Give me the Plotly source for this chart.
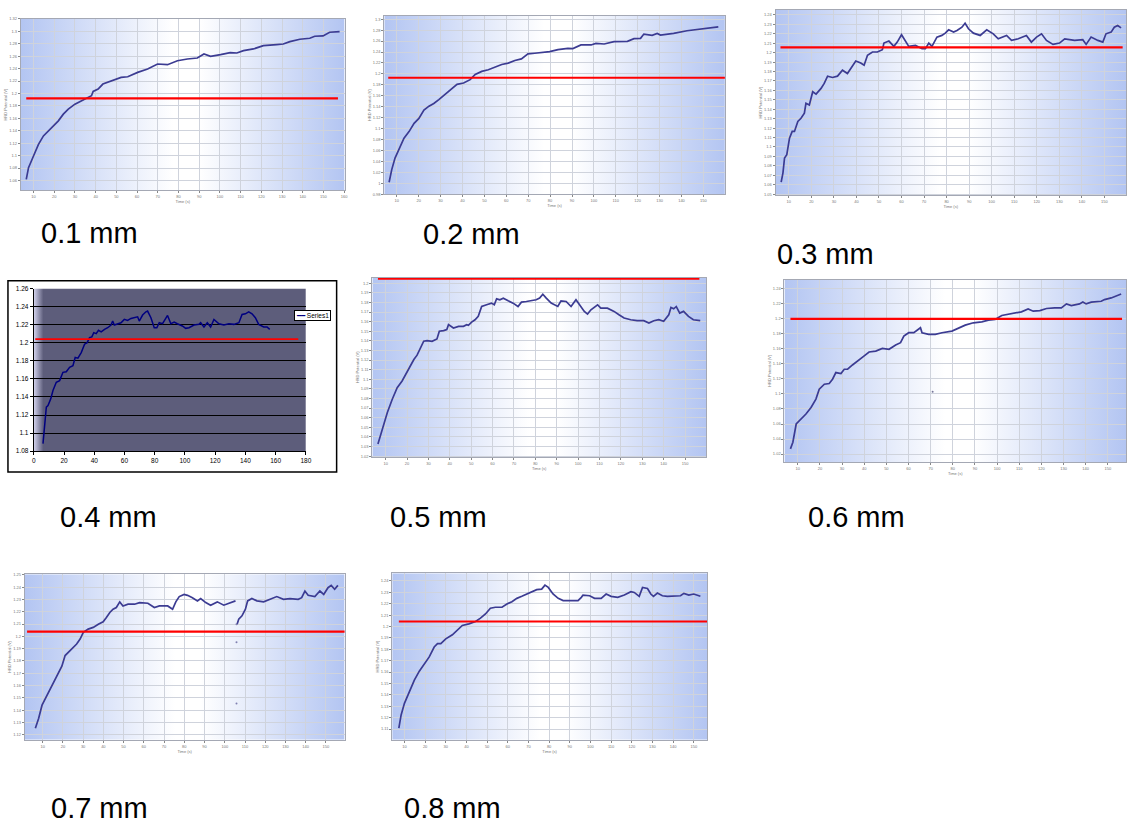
import plotly.graph_objects as go

W, H = 1137, 833

# ---------------- data (time in s, potential in V) ----------------
t_01 = [6.5, 7.6, 10, 12.4, 14.8, 17.2, 19.6, 22, 24.4, 26.8, 30, 33.2, 35.6, 38, 38.8, 41.2, 43.5, 47.5,
        52.3, 55.5, 60.3, 65.1, 69.9, 74.7, 79.5, 84.3, 89.1, 92.3, 95.5, 100.3, 105, 108.2, 111.4, 116.2,
        121, 127.4, 130.6, 133.8, 138.6, 143.4, 145.8, 149.8, 153, 157.8]
v_01 = [1.0617, 1.0806, 1.0994, 1.1182, 1.1317, 1.1398, 1.1462, 1.1559, 1.1667, 1.1747, 1.1828, 1.1882,
        1.192, 1.1963, 1.2033, 1.207, 1.2151, 1.2205, 1.2258, 1.2269, 1.2339, 1.2393, 1.2474, 1.2463,
        1.2527, 1.2554, 1.2571, 1.2635, 1.2597, 1.2624, 1.2657, 1.2651, 1.2689, 1.2716, 1.277, 1.2786,
        1.2796, 1.2834, 1.2872, 1.2888, 1.292, 1.2925, 1.2985, 1.2996]

t_02 = [6.5, 7.7, 9.2, 11.1, 13.3, 15.6, 17.9, 20.1, 22.4, 24.7, 26.9, 29.2, 31.5, 34.5, 37.5, 40.5, 43.5,
        45.8, 48.8, 51.8, 54.9, 57.9, 60.9, 63.9, 66.9, 69.9, 73, 76, 79.8, 83.6, 88.1, 90.4, 94.1, 98.7,
        100.9, 104.7, 109.2, 115.3, 118.3, 121.3, 122.8, 126.6, 128.9, 130.4, 136.4, 142.5, 147, 153.1, 156.8]
v_02 = [1.0022, 1.0252, 1.0463, 1.0644, 1.0826, 1.0946, 1.1097, 1.1188, 1.1339, 1.1411, 1.146, 1.1532,
        1.1611, 1.1713, 1.181, 1.1834, 1.1895, 1.1991, 1.2046, 1.2076, 1.2124, 1.2173, 1.2197, 1.2245,
        1.2275, 1.2366, 1.2378, 1.239, 1.2408, 1.2444, 1.2468, 1.2462, 1.2529, 1.2529, 1.2559, 1.2547,
        1.2589, 1.2595, 1.2644, 1.265, 1.2728, 1.2704, 1.274, 1.271, 1.274, 1.2789, 1.2813, 1.2849, 1.2861]

t_03 = [6.6, 7.4, 8.1, 9.1, 10.3, 11.5, 12.5, 14, 15.4, 16.9, 17.6, 19.1, 20.6, 22.1, 24.3, 25.7, 27.2,
        29.4, 31.6, 33.8, 36, 37.5, 39.7, 41.9, 43.4, 44.9, 47.1, 49.3, 51.5, 52.2, 54.4, 56.6, 58.1, 60,
        61.5, 63.2, 66.2, 69.1, 70.6, 72.1, 73.5, 75.7, 77.9, 79.4, 80.9, 83.1, 84.6, 86.8, 88.2, 89.7,
        91.9, 94.9, 97.8, 100.7, 102.9, 106.6, 108.8, 111.8, 115.4, 117.6, 119.9, 122.1, 124.3, 127.2,
        130.1, 132.4, 136.8, 140.4, 141.9, 144.1, 147.1, 149.3, 150.7, 153, 154.4, 155.9, 157.4]
v_03 = [1.0628, 1.0726, 1.0884, 1.0919, 1.1094, 1.1165, 1.1165, 1.127, 1.1305, 1.1358, 1.1463, 1.1446,
        1.1586, 1.1561, 1.1621, 1.1674, 1.1751, 1.1737, 1.1751, 1.1814, 1.1779, 1.1832, 1.1912, 1.1891,
        1.1867, 1.1972, 1.2007, 1.2007, 1.2032, 1.2102, 1.2123, 1.2067, 1.2112, 1.219, 1.2137, 1.2067,
        1.2077, 1.2042, 1.2042, 1.2102, 1.2067, 1.2165, 1.2183, 1.2207, 1.2242, 1.2218, 1.2235, 1.227,
        1.2312, 1.2253, 1.2207, 1.2183, 1.2242, 1.22, 1.2147, 1.2183, 1.213, 1.2147, 1.2183, 1.2112,
        1.2165, 1.22, 1.213, 1.2088, 1.2102, 1.2147, 1.213, 1.2137, 1.2088, 1.2165, 1.213, 1.2112, 1.22,
        1.2218, 1.227, 1.2288, 1.2263]

t_04 = [6.1, 7.2, 8.3, 9.4, 11.2, 12.7, 13.8, 14.9, 17.1, 19.3, 21.5, 23.7, 25.9, 27.4, 29.2, 31.4, 33.6,
        35.3, 36.9, 38.4, 39.7, 41.3, 42.8, 44.6, 46.8, 48.9, 51.1, 52.2, 53.3, 55.5, 57.7, 59.9, 62.1,
        64.3, 66.5, 68.7, 69.8, 72, 74.2, 75.3, 77.5, 79.7, 81.4, 83, 85.2, 87.4, 88.5, 90.7, 92.9, 95,
        98.3, 100.5, 102.7, 106, 109.3, 110.4, 112.6, 114.8, 117, 119.2, 122.5, 125.8, 129.1, 132.4,
        135.7, 137.8, 140, 142.2, 144.4, 146.6, 148.8, 152.1, 154.3, 156.1]
v_04 = [1.0884, 1.1123, 1.1288, 1.1306, 1.1379, 1.1471, 1.1508, 1.1563, 1.1581, 1.1673, 1.168, 1.1728,
        1.1746, 1.1837, 1.183, 1.1892, 1.1984, 1.2002, 1.2057, 1.2065, 1.2112, 1.2101, 1.2138, 1.212,
        1.2149, 1.2167, 1.2197, 1.2241, 1.2197, 1.2211, 1.2222, 1.2259, 1.2248, 1.227, 1.2277, 1.2288,
        1.2241, 1.2307, 1.2343, 1.2351, 1.2277, 1.2167, 1.2167, 1.2222, 1.2211, 1.2277, 1.2303, 1.2211,
        1.2229, 1.2211, 1.2186, 1.216, 1.2167, 1.2197, 1.2204, 1.2222, 1.2175, 1.2222, 1.2175, 1.2259,
        1.2211, 1.2197, 1.2211, 1.2204, 1.2222, 1.2314, 1.2321, 1.2343, 1.2321, 1.2277, 1.2204, 1.2175,
        1.2175, 1.2149]

t_05 = [6.4, 7.7, 9.2, 10.8, 13.1, 15.4, 17.7, 19.3, 21.6, 23.2, 24.7, 26.3, 27.8, 29.4, 31.7, 34, 35.1,
        37.1, 38.6, 39.4, 41.7, 44.1, 46.4, 47.9, 48.7, 50.2, 51.8, 53.3, 54.9, 57.2, 59.5, 60.8, 61.9,
        63.4, 65, 67.3, 69.6, 71.9, 73.5, 75.8, 78.1, 80.4, 82, 83.5, 85.1, 87.4, 90.5, 92, 94.4, 96.7,
        99, 100.6, 102.9, 104.4, 106, 109.1, 110.6, 113.7, 116.8, 119.1, 121.5, 124.6, 127.6, 130.7,
        133.1, 135.4, 137.7, 140, 142.4, 143.4, 144.7, 145.9, 147.5, 149.3, 151.6, 153.9, 157.1]
v_05 = [1.0327, 1.043, 1.0551, 1.0654, 1.0792, 1.0913, 1.0982, 1.1051, 1.1137, 1.1206, 1.1251, 1.1334,
        1.1396, 1.1403, 1.1396, 1.142, 1.15, 1.1507, 1.1517, 1.1569, 1.1534, 1.1551, 1.1551, 1.1569,
        1.1562, 1.1596, 1.162, 1.1655, 1.1758, 1.1776, 1.1793, 1.1776, 1.1838, 1.1828, 1.1845, 1.1817,
        1.1793, 1.1758, 1.1803, 1.181, 1.1817, 1.1828, 1.1845, 1.1886, 1.1845, 1.1793, 1.1758, 1.1817,
        1.181, 1.1758, 1.1828, 1.1776, 1.1707, 1.1679, 1.1724, 1.1776, 1.1741, 1.1741, 1.1707, 1.1672,
        1.1638, 1.162, 1.161, 1.161, 1.1586, 1.161, 1.162, 1.1603, 1.1672, 1.1748, 1.1734, 1.1758,
        1.1689, 1.1707, 1.1655, 1.162, 1.161]

t_06 = [6.7, 7.8, 9.3, 11.5, 13.7, 16, 18.2, 19.7, 22, 24.2, 25.7, 27.2, 29.5, 31, 32.5, 34.7, 37.7, 40,
        42.2, 45.2, 48.2, 51.2, 54.2, 56.4, 57.9, 60.1, 62.4, 63.9, 65.4, 66.1, 69.1, 72.1, 75.1, 79.6,
        82.6, 85.6, 89.3, 93.1, 96.1, 99.1, 102.1, 104.3, 108.1, 111, 114, 116.3, 119.3, 122.3, 126, 129,
        131.3, 133.5, 137.2, 138.7, 140.2, 142.5, 147, 148.5, 151.5, 153.7, 156]
v_06 = [1.0269, 1.0358, 1.06, 1.0667, 1.0733, 1.0821, 1.0932, 1.1064, 1.113, 1.1139, 1.1196, 1.1285,
        1.1272, 1.1329, 1.1329, 1.1386, 1.1461, 1.1506, 1.1558, 1.1571, 1.1607, 1.1594, 1.1651, 1.1682,
        1.177, 1.1815, 1.1815, 1.1845, 1.1881, 1.1815, 1.1792, 1.1792, 1.1815, 1.1837, 1.1872, 1.1916,
        1.1947, 1.196, 1.1982, 1.1991, 1.2044, 1.2057, 1.2079, 1.2093, 1.2132, 1.2102, 1.211, 1.2137,
        1.2146, 1.2146, 1.2199, 1.2177, 1.2199, 1.2225, 1.2199, 1.2221, 1.2234, 1.2256, 1.2278, 1.23,
        1.2331]
t_06_stray = [70.9]
v_06_stray = [1.1029]

# 0.7 mm: two recorded segments (None = gap in the recording)
t_07 = [6.4, 8, 9.7, 12.1, 14.6, 17, 19.5, 21.1, 22.7, 24.4, 26.8, 28.5, 30.1, 32.5, 35, 37.5, 39.9,
        41.5, 43.2, 44.8, 46.4, 48.1, 49.7, 52.2, 55.4, 57.9, 62, 65.2, 67.7, 71.8, 74.2, 75.8, 77.5,
        79.9, 81.6, 84, 86.5, 88.1, 90.6, 93, 96.3, 99.5, 102.8, 105.3, None,
        106.1, 106.9, 108.5, 110.2, 111.3, 113.4, 115.9, 119.2, 122.4, 125.7, 129, 132.2, 136.3, 138,
        139.6, 141.2, 144.5, 147, 148.9, 151, 152.6, 154.3, 155.9]
v_07 = [1.1253, 1.1333, 1.1441, 1.1522, 1.1602, 1.1683, 1.1758, 1.1844, 1.1871, 1.1903, 1.1938, 1.1978,
        1.2032, 1.2059, 1.2073, 1.2099, 1.2118, 1.2153, 1.2194, 1.222, 1.2234, 1.228, 1.2247, 1.2261,
        1.2261, 1.2274, 1.2269, 1.2234, 1.2247, 1.2247, 1.222, 1.228, 1.2323, 1.2341, 1.2333, 1.2314,
        1.2288, 1.2307, 1.2274, 1.2253, 1.228, 1.2253, 1.2274, 1.2288, None,
        1.2099, 1.214, 1.2167, 1.222, 1.2288, 1.2307, 1.2288, 1.228, 1.2301, 1.2323, 1.2301, 1.2307,
        1.2301, 1.2314, 1.2368, 1.2333, 1.2323, 1.2368, 1.2341, 1.2395, 1.2414, 1.2382, 1.2414]
t_07_stray = [105.8, 105.8, 105.8]
v_07_stray = [1.2099, 1.1952, 1.1454]

t_08 = [7.3, 8.4, 10, 12.4, 14.8, 17.2, 19.6, 22, 24.4, 26, 27.6, 30, 33.2, 35.6, 38, 41.2, 44.4, 46.8,
        49.2, 51.6, 54, 57.2, 59.6, 62, 64.4, 66.8, 69.2, 71.6, 74, 76.4, 78, 79.6, 81.9, 84.4, 86.8, 90,
        94, 95.6, 96.4, 99.6, 102, 105.2, 107.6, 110, 113.2, 116.4, 119.6, 121.2, 123.6, 125.2, 127.6,
        129.2, 130.5, 132.4, 134.8, 137.2, 140.4, 143.6, 145.2, 147.6, 150, 153.2]
v_08 = [1.1108, 1.1224, 1.1326, 1.1427, 1.1529, 1.1608, 1.1674, 1.1733, 1.182, 1.1849, 1.1849, 1.1892,
        1.1927, 1.1965, 1.2009, 1.2023, 1.2044, 1.2073, 1.211, 1.216, 1.2169, 1.2169, 1.2198, 1.2218,
        1.2247, 1.2265, 1.2285, 1.2305, 1.2323, 1.2328, 1.2363, 1.2343, 1.2285, 1.2247, 1.2227, 1.2227,
        1.2227, 1.2256, 1.2276, 1.227, 1.2247, 1.2247, 1.2285, 1.2265, 1.2256, 1.2276, 1.2305, 1.2299,
        1.2265, 1.2343, 1.2334, 1.2285, 1.2265, 1.2294, 1.227, 1.2265, 1.227, 1.227, 1.2291, 1.2276,
        1.2285, 1.2265]

# reference (threshold) level drawn in red, and the time span it covers
ref_level = [1.192, 1.193, 1.2056, 1.204, 1.2048, 1.2, 1.2038, 1.2044]
ref_start = [6.5, 6.1, 6.3, 1, 6.4, 6.7, 2.3, 7.3]
ref_end = [157, 162, 158.1, 175, 156.7, 156.4, 160.8, 158]

labels = ["0.1 mm", "0.2 mm", "0.3 mm", "0.4 mm", "0.5 mm", "0.6 mm", "0.7 mm", "0.8 mm"]

series_t = [t_01, t_02, t_03, t_04, t_05, t_06, t_07, t_08]
series_v = [v_01, v_02, v_03, v_04, v_05, v_06, v_07, v_08]

# ---------------- layout of the panels (pixels) ----------------
# left, right, top, bottom of each plotting area
boxes = [(19, 345, 15, 188), (385, 728, 12, 192), (779, 1132, 6, 193),
         (32, 306, 287, 451), (373, 709, 276, 457), (788, 1132, 278, 462),
         (23, 345, 575, 742), (393, 710, 574, 742)]
x_ranges = [(3.9, 160.2), (4.3, 159.8), (4.1, 159.6), (0, 180), (3.8, 159.8), (4, 158.2),
            (1.2, 159.2), (4.1, 156.4)]
y_ranges = [(1.044, 1.32), (0.98, 1.306), (1.0487, 1.2453), (1.08, 1.26), (1.0189, 1.2058),
            (1.0093, 1.2521), (1.116, 1.2505), (1.1006, 1.2468)]
y_dticks = [0.02, 0.02, 0.01, 0.02, 0.01, 0.02, 0.01, 0.01]
label_pos = [(37, 231), (422, 232), (778, 252), (56, 517), (389, 517), (810, 517), (47, 811), (403, 811)]

EXCEL = 3  # index of the spreadsheet-style panel

fig = go.Figure()

def px_x(p):
    return p / W

def px_y(p):
    return 1 - p / H

layout_axes = {}

# background subplots (1..8) with gradient fills
for i, (l, r, t, b) in enumerate(boxes):
    n = i + 1
    if i == EXCEL:
        grad = dict(type="horizontal",
                    colorscale=[[0, "#d4d4ee"], [0.035, "#5d5d7b"], [1, "#5d5d7b"]])
    else:
        grad = dict(type="horizontal",
                    colorscale=[[0, "#b3c5f2"], [0.47, "#ffffff"], [0.55, "#ffffff"], [1, "#b3c5f2"]])
    fig.add_trace(go.Scatter(x=[0, 1, 1, 0, 0], y=[0, 0, 1, 1, 0], mode="lines",
                             line=dict(width=0), fill="toself", fillgradient=grad,
                             hoverinfo="skip", showlegend=False,
                             xaxis=f"x{n}", yaxis=f"y{n}"))
    layout_axes[f"xaxis{n}"] = dict(domain=[px_x(l), px_x(r)], range=[0, 1], visible=False,
                                    anchor=f"y{n}", fixedrange=True)
    layout_axes[f"yaxis{n}"] = dict(domain=[px_y(b), px_y(t)], range=[0, 1], visible=False,
                                    anchor=f"x{n}", fixedrange=True)

# data subplots (9..16)
for i, (l, r, t, b) in enumerate(boxes):
    n = i + 9
    xa, ya = f"x{n}", f"y{n}"
    if i == EXCEL:
        fig.add_trace(go.Scatter(x=series_t[i], y=series_v[i], mode="lines", name="Series1",
                                 line=dict(color="#000080", width=1.5), showlegend=False,
                                 xaxis=xa, yaxis=ya))
        fig.add_trace(go.Scatter(x=[ref_start[i], ref_end[i]], y=[ref_level[i]] * 2, mode="lines",
                                 line=dict(color="#ff0000", width=1.8), showlegend=False,
                                 xaxis=xa, yaxis=ya))
        tickfont = dict(family="Liberation Sans, Arial", size=6.5, color="#000000")
        layout_axes[f"xaxis{n}"] = dict(domain=[px_x(l), px_x(r)], range=list(x_ranges[i]),
                                        dtick=20, tick0=0, showgrid=False, zeroline=False,
                                        showline=True, linecolor="#000000", linewidth=1,
                                        ticks="outside", ticklen=3, tickcolor="#000000",
                                        tickfont=tickfont, anchor=ya, fixedrange=True)
        layout_axes[f"yaxis{n}"] = dict(domain=[px_y(b), px_y(t)], range=list(y_ranges[i]),
                                        dtick=y_dticks[i], tick0=0, showgrid=True,
                                        gridcolor="#000000", gridwidth=1, zeroline=False,
                                        showline=True, linecolor="#000000", linewidth=1,
                                        ticks="outside", ticklen=3, tickcolor="#000000",
                                        tickfont=tickfont, anchor=xa, fixedrange=True)
    else:
        fig.add_trace(go.Scatter(x=series_t[i], y=series_v[i], mode="lines",
                                 line=dict(color="#3b3b92", width=1.7), connectgaps=False,
                                 showlegend=False, xaxis=xa, yaxis=ya))
        if i == 5:
            fig.add_trace(go.Scatter(x=t_06_stray, y=v_06_stray, mode="markers",
                                     marker=dict(color="#777799", size=2), showlegend=False,
                                     xaxis=xa, yaxis=ya))
        if i == 6:
            fig.add_trace(go.Scatter(x=t_07_stray, y=v_07_stray, mode="markers",
                                     marker=dict(color="#8080b0", size=2), showlegend=False,
                                     xaxis=xa, yaxis=ya))
        fig.add_trace(go.Scatter(x=[ref_start[i], ref_end[i]], y=[ref_level[i]] * 2, mode="lines",
                                 line=dict(color="#ff0000", width=2.2), showlegend=False,
                                 xaxis=xa, yaxis=ya))
        tickfont = dict(family="Liberation Sans, Arial", size=4, color="#777777")
        titlefont = dict(family="Liberation Sans, Arial", size=4, color="#777777")
        layout_axes[f"xaxis{n}"] = dict(domain=[px_x(l), px_x(r)], range=list(x_ranges[i]),
                                        dtick=10, tick0=0, showgrid=True, gridcolor="#cfd3dc",
                                        gridwidth=0.7, zeroline=False, showline=True, mirror=True,
                                        linecolor="#a4a8b4", linewidth=1, ticks="outside",
                                        ticklen=2, tickcolor="#888888", tickfont=tickfont,
                                        title=dict(text="Time (s)", font=titlefont, standoff=1),
                                        anchor=ya, fixedrange=True)
        layout_axes[f"yaxis{n}"] = dict(domain=[px_y(b), px_y(t)], range=list(y_ranges[i]),
                                        dtick=y_dticks[i], tick0=0, showgrid=True,
                                        gridcolor="#cfd3dc", gridwidth=0.7, zeroline=False,
                                        showline=True, mirror=True, linecolor="#a4a8b4",
                                        linewidth=1, ticks="outside", ticklen=2,
                                        tickcolor="#888888", tickfont=tickfont,
                                        title=dict(text="HRD Potential (V)", font=titlefont, standoff=1),
                                        anchor=xa, fixedrange=True)

annotations = []
for i, (lx, cy) in enumerate(label_pos):
    annotations.append(dict(text=labels[i], x=px_x(lx), y=px_y(cy), xref="paper", yref="paper",
                            xanchor="left", yanchor="middle", showarrow=False,
                            font=dict(family="Liberation Sans, Arial", size=29, color="#000000")))

# legend box of the spreadsheet panel
annotations.append(dict(text="<span style='color:#000080'>━━</span> Series1",
                        x=px_x(313), y=px_y(314), xref="paper", yref="paper",
                        xanchor="center", yanchor="middle", showarrow=False,
                        bgcolor="#ffffff", bordercolor="#000000", borderwidth=1, borderpad=1,
                        font=dict(family="Liberation Sans, Arial", size=6.5, color="#000000")))

shapes = [dict(type="rect", xref="paper", yref="paper", x0=px_x(6), x1=px_x(337),
               y0=px_y(472), y1=px_y(279), line=dict(color="#000000", width=1.5))]

fig.update_layout(width=W, height=H, margin=dict(l=0, r=0, t=0, b=0),
                  paper_bgcolor="#ffffff", plot_bgcolor="rgba(0,0,0,0)",
                  showlegend=False, annotations=annotations, shapes=shapes,
                  **layout_axes)

fig.write_html("out.html", config={"displayModeBar": False},
               post_script="document.body.style.margin='0';document.body.style.overflow='hidden';")
